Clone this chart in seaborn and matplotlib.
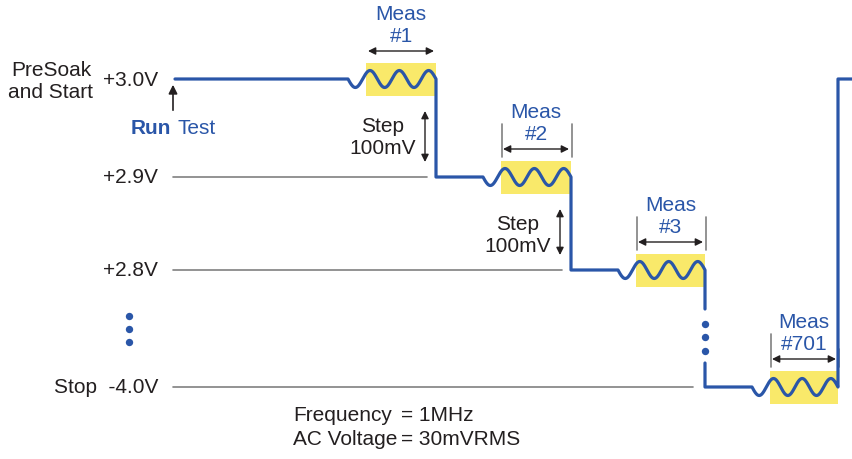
import numpy as np
import pandas as pd
import matplotlib
matplotlib.use("Agg")
import matplotlib.pyplot as plt
import seaborn as sns

# chart content
level_labels = ["+3.0V", "+2.9V", "+2.8V", "-4.0V"]
meas_labels = ["#1", "#2", "#3", "#701"]
step_text = ["Step", "100mV"]
freq_text = "1MHz"
ac_text = "30mVRMS"

# layout (pixel coordinates of the schematic)
level_rows = [80, 178, 271, 388]
wave_start = [348, 483, 618, 752]
wave_end = [436, 571, 705, 838]
ref_line_end = [None, 427, 562, 693]
step_arrow_x = [425, 560]

BLUE = "#2a56a8"
YELLOW = "#f9e96a"
GRAY = "#808080"
BLACK = "#231f20"
AMP = 8.5

sns.set_theme(style="white")
plt.rcParams["font.family"] = ["Liberation Sans", "DejaVu Sans"]

fig = plt.figure(figsize=(8.52, 4.60), dpi=100)
ax = fig.add_axes([0, 0, 1, 1])


def wave(x0, x1, row):
    xs = np.linspace(x0, x1, 200)
    period = (x1 - x0) / 3
    return xs, row + AMP * np.sin(2 * np.pi * (xs - x0) / period)


# build the waveform path
xs, ys = [175], [level_rows[0]]
for i, row in enumerate(level_rows):
    wx, wy = wave(wave_start[i], wave_end[i], row)
    xs += list(wx)
    ys += list(wy)
    if i < 2:
        xs.append(wave_end[i]); ys.append(level_rows[i + 1])
    elif i == 2:
        xs.append(wave_end[i]); ys.append(310)
        xs.append(np.nan); ys.append(np.nan)
        xs.append(wave_end[i]); ys.append(364)
        xs.append(wave_end[i]); ys.append(level_rows[3])
    else:
        xs.append(wave_end[i]); ys.append(level_rows[0])
        xs.append(852); ys.append(level_rows[0])
    if i < 3:
        xs.append(wave_start[i + 1]); ys.append(level_rows[i + 1] if i < 2 else level_rows[3])

path = pd.DataFrame({"x": xs, "y": ys, "seg": np.cumsum(np.isnan(xs))})
path = path.dropna()

# yellow measurement windows
for i, row in enumerate(level_rows):
    left = wave_start[i] + 18
    ax.add_patch(plt.Rectangle((left, row - 16), wave_end[i] - left, 33,
                               facecolor=YELLOW, edgecolor="none", zorder=1))

sns.lineplot(data=path, x="x", y="y", units="seg", estimator=None, sort=False,
             color=BLUE, linewidth=2.3, ax=ax, zorder=3)

# reference lines
for i, row in enumerate(level_rows):
    if ref_line_end[i]:
        ax.plot([173, ref_line_end[i]], [row, row], color=GRAY, lw=1.2, zorder=2)

# level labels
fs = 15
for i, row in enumerate(level_rows):
    txt = level_labels[i] if i < 3 else "Stop  " + level_labels[i]
    ax.text(158, row, txt, ha="right", va="center", fontsize=fs, color=BLACK)
ax.text(51, 70, "PreSoak", ha="center", va="center", fontsize=fs, color=BLACK)
ax.text(51, 92, "and Start", ha="center", va="center", fontsize=fs, color=BLACK)

# Run Test arrow
ax.annotate("", xy=(173, 83), xytext=(173, 114),
            arrowprops=dict(arrowstyle="-|>", color=BLACK, lw=1.2, mutation_scale=13))
ax.text(131, 128, "Run", ha="left", va="center", fontsize=fs, color=BLUE, fontweight="bold")
ax.text(178, 128, "Test", ha="left", va="center", fontsize=fs, color=BLUE)

# vertical ellipsis dots
sns.scatterplot(x=[129] * 3, y=[317, 330, 343], color=BLUE, s=28, ax=ax, zorder=4, linewidth=0)
sns.scatterplot(x=[705] * 3, y=[325, 338, 352], color=BLUE, s=28, ax=ax, zorder=4, linewidth=0)

# measurement labels and arrows
for i, row in enumerate(level_rows):
    left = wave_start[i] + 18
    right = wave_end[i]
    cx = (left + right) / 2
    ax.text(cx, row - 65, "Meas", ha="center", va="center", fontsize=fs, color=BLUE)
    ax.text(cx, row - 43, meas_labels[i], ha="center", va="center", fontsize=fs, color=BLUE)
    ay = row - 28
    ax.annotate("", xy=(left + 2, ay), xytext=(right - 2, ay),
                arrowprops=dict(arrowstyle="<|-|>", color=BLACK, lw=1.0, mutation_scale=11,
                                shrinkA=0, shrinkB=0))
    if i > 0:
        ax.plot([left + 1, left + 1], [row - 53, row - 20], color=GRAY, lw=1.2)
        ax.plot([right + 1, right + 1], [row - 53 if i < 3 else row - 38, row - 20], color=GRAY, lw=1.2)

# step annotations
for i, sx in enumerate(step_arrow_x):
    top = level_rows[i] + 32
    bot = level_rows[i + 1] - 15
    ax.annotate("", xy=(sx, top), xytext=(sx, bot),
                arrowprops=dict(arrowstyle="<|-|>", color=BLACK, lw=1.0, mutation_scale=11,
                                shrinkA=0, shrinkB=0))
    ax.text(sx - 42, level_rows[i] + 47, step_text[0], ha="center", va="center", fontsize=fs, color=BLACK)
    ax.text(sx - 42, level_rows[i] + 69, step_text[1], ha="center", va="center", fontsize=fs, color=BLACK)

# footer
ax.text(293, 416, "Frequency", ha="left", va="center", fontsize=fs, color=BLACK)
ax.text(401, 416, "= " + freq_text, ha="left", va="center", fontsize=fs, color=BLACK)
ax.text(293, 440, "AC Voltage", ha="left", va="center", fontsize=fs, color=BLACK)
ax.text(401, 440, "= " + ac_text, ha="left", va="center", fontsize=fs, color=BLACK)

ax.set_xlim(0, 852)
ax.set_ylim(460, 0)
ax.axis("off")

fig.savefig("out.png", dpi=100)
